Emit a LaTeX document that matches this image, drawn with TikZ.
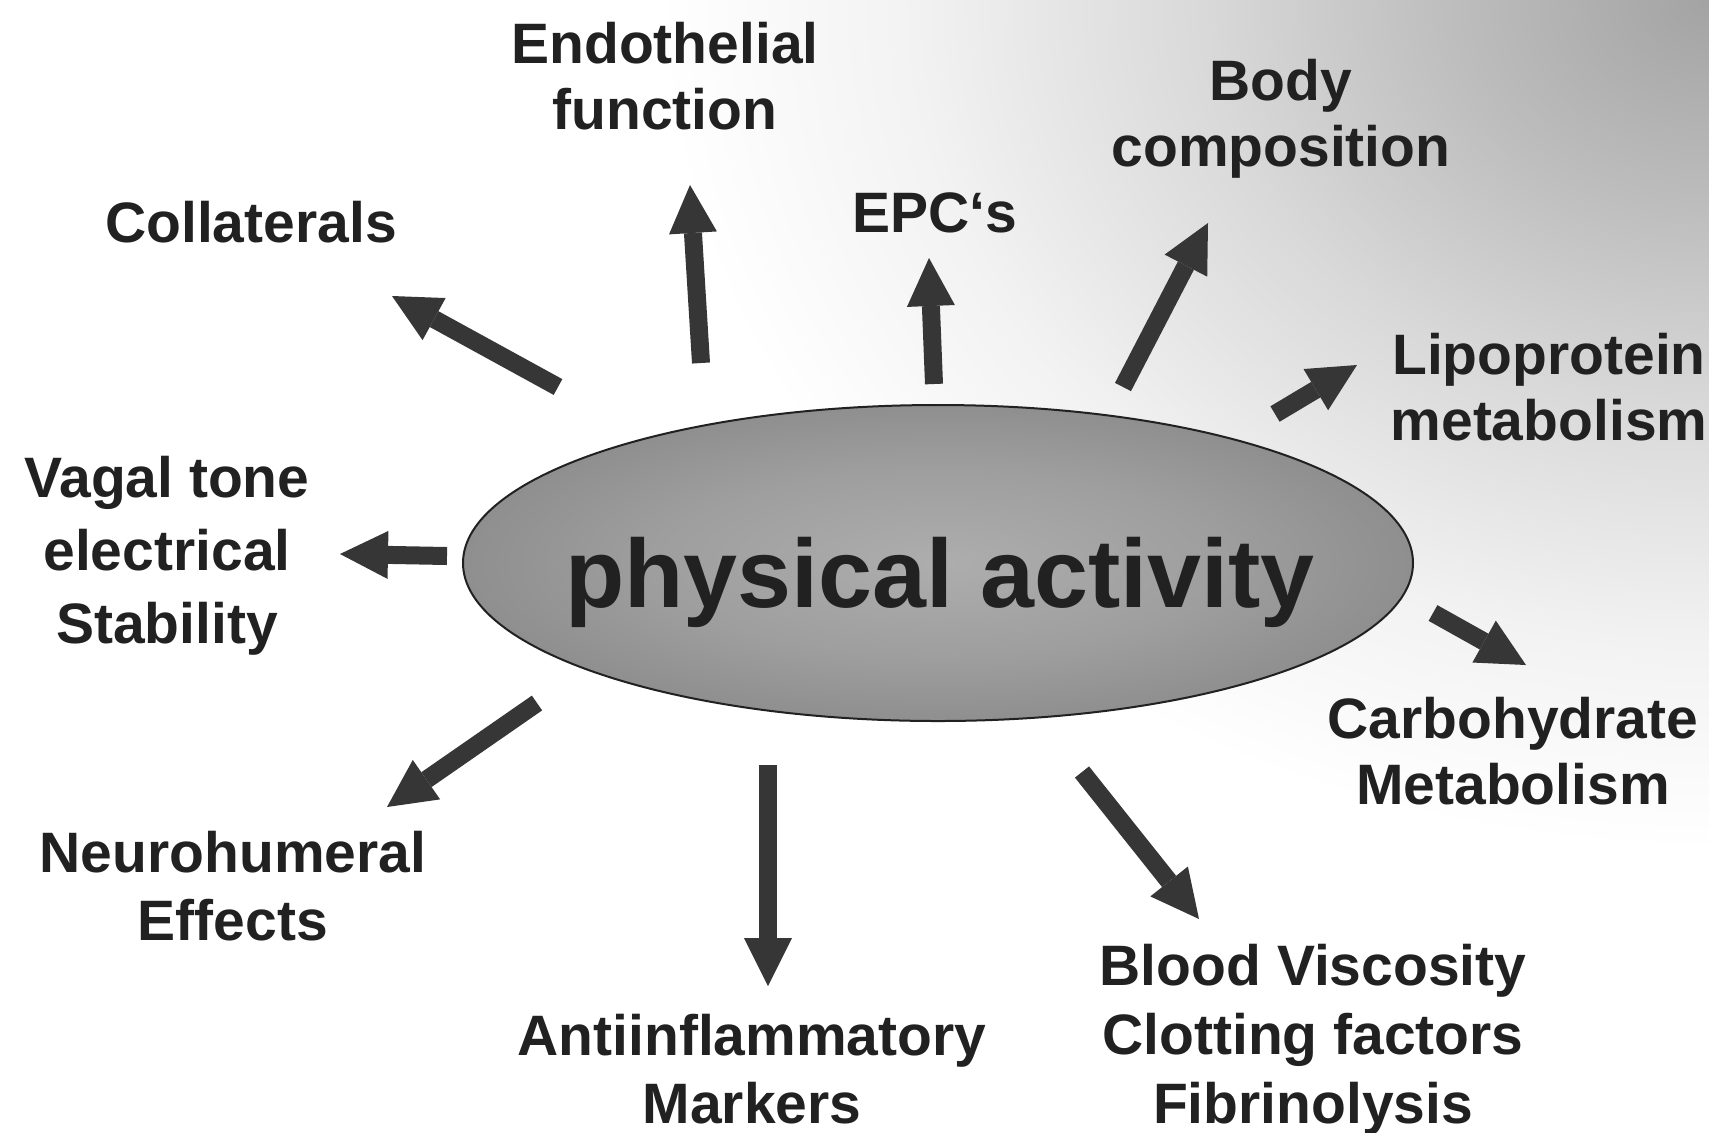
\documentclass[tikz,border=0pt]{standalone}
\usepackage{fontspec}
\setmainfont{Liberation Sans}
\usetikzlibrary{arrows.meta,shapes.geometric}
\definecolor{ink}{gray}{0.13}
\definecolor{arr}{gray}{0.21}
\definecolor{bgA}{gray}{0.64}
\definecolor{bgB}{gray}{0.74}
\definecolor{bgC}{gray}{0.85}
\definecolor{bgD}{gray}{0.95}
\definecolor{elA}{gray}{0.68}
\definecolor{elB}{gray}{0.62}
\definecolor{elC}{gray}{0.56}
\pgfdeclareradialshading{bgshade}{\pgfpoint{0bp}{0bp}}{color(0bp)=(bgA); color(6bp)=(bgB); color(12bp)=(bgC); color(19bp)=(bgD); color(25bp)=(white); color(50bp)=(white)}
\pgfdeclareradialshading{ellshade}{\pgfpoint{0bp}{0bp}}{color(0bp)=(elA); color(15bp)=(elB); color(25bp)=(elC); color(50bp)=(elC)}
\tikzset{
  lbl/.style={font=\bfseries\fontsize{28.5}{33}\selectfont, text=ink, align=center, inner sep=0pt, anchor=base},
  parrow/.style={draw=arr, line width=9pt, -{Triangle[length=24pt,width=24pt,line width=0pt]}},
}
\begin{document}
\begin{tikzpicture}[x=0.5pt,y=-0.5pt]
\useasboundingbox (0,0) rectangle (1709,1132);
\fill[white] (0,0) rectangle (1709,1132);
\begin{scope}
  \clip (0,0) rectangle (1709,1132);
  \shade[shading=bgshade] (1709,0) ellipse [x radius=1050, y radius=850];
\end{scope}

% central ellipse
\node[ellipse, draw=ink, line width=1pt, shading=ellshade, minimum width=475pt, minimum height=158pt, inner sep=0pt] (ell) at (938,563) {};
\node[font=\bfseries\fontsize{48.5}{50}\selectfont, text=ink, inner sep=0pt, anchor=base] (pa) at (940,607) {physical activity};

% labels (base anchor = baseline of last line)
\node[lbl] (endo) at (665,129) {Endothelial\\function};
\node[lbl] (body) at (1281,166) {Body\\composition};
\node[lbl] (coll) at (251,242) {Collaterals};
\node[lbl] (epc) at (935,232) {EPC‘s};
\node[lbl] (lipo) at (1549,440) {Lipoprotein\\metabolism};
\node[lbl, font=\bfseries\fontsize{28.5}{36.5}\selectfont] (vagal) at (167,643) {Vagal tone\\electrical\\Stability};
\node[lbl] (carb) at (1513,804) {Carbohydrate\\Metabolism};
\node[lbl, font=\bfseries\fontsize{28.5}{34}\selectfont] (neuro) at (233,940) {Neurohumeral\\Effects};
\node[lbl, font=\bfseries\fontsize{28.5}{34}\selectfont] (anti) at (752,1123) {Antiinflammatory\\Markers};
\node[lbl, font=\bfseries\fontsize{28.5}{34.5}\selectfont] (blood) at (1313,1123) {Blood Viscosity\\Clotting factors\\Fibrinolysis};

% arrow end points
\coordinate (tcoll) at (558,387);  \coordinate (hcoll) at (392,296);
\coordinate (tendo) at (701,363);  \coordinate (hendo) at (690,185);
\coordinate (tepc)  at (934,384);  \coordinate (hepc)  at (929,258);
\coordinate (tbody) at (1123,387); \coordinate (hbody) at (1208,223);
\coordinate (tlipo) at (1275,414); \coordinate (hlipo) at (1357,365);
\coordinate (tvag)  at (447,556);  \coordinate (hvag)  at (340,554);
\coordinate (tcarb) at (1433,613); \coordinate (hcarb) at (1526,665);
\coordinate (tneu)  at (537,703);  \coordinate (hneu)  at (387,807);
\coordinate (tanti) at (768,765);  \coordinate (hanti) at (768,986);
\coordinate (tblo)  at (1082,772); \coordinate (hblo)  at (1199,919);

\draw[parrow] (tcoll) -- (hcoll);
\draw[parrow] (tendo) -- (hendo);
\draw[parrow] (tepc) -- (hepc);
\draw[parrow] (tbody) -- (hbody);
\draw[parrow] (tlipo) -- (hlipo);
\draw[parrow] (tvag) -- (hvag);
\draw[parrow] (tcarb) -- (hcarb);
\draw[parrow] (tneu) -- (hneu);
\draw[parrow] (tanti) -- (hanti);
\draw[parrow] (tblo) -- (hblo);
\end{tikzpicture}
\end{document}
